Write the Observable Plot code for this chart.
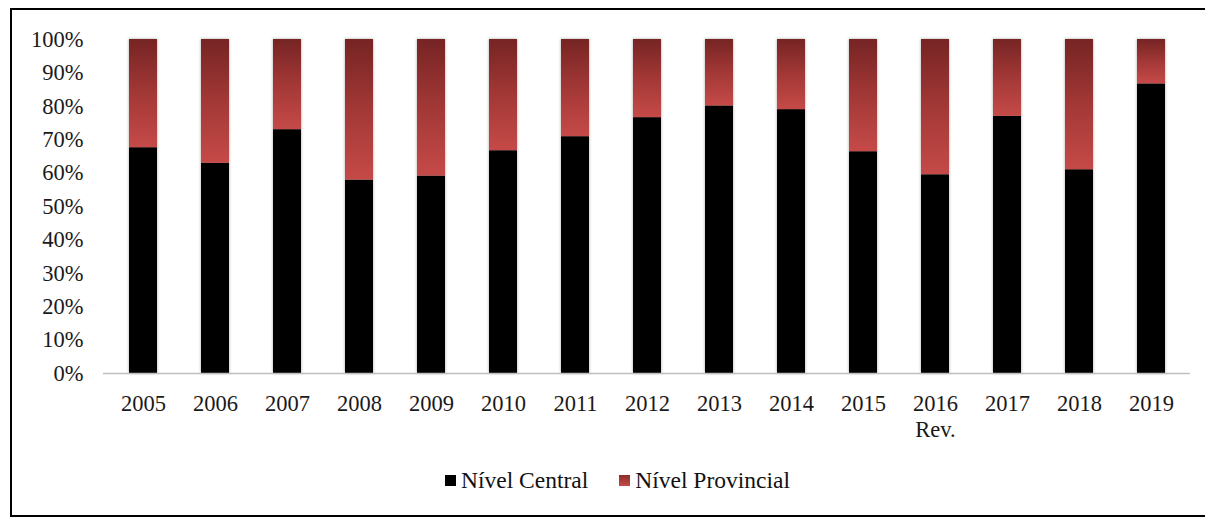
<!DOCTYPE html>
<html>
<head>
<meta charset="utf-8">
<script src="https://cdn.jsdelivr.net/npm/d3@7"></script>
<script src="https://cdn.jsdelivr.net/npm/@observablehq/plot@0.6"></script>
<style>
  html, body { margin: 0; padding: 0; background: #fff; }
  body { width: 1205px; height: 518px; position: relative; overflow: hidden; font-family: "Liberation Serif", "Times New Roman", serif; }
  #frame { position: absolute; left: 10px; top: 8px; width: 1210px; height: 505px; border-left: 2px solid #000; border-top: 2px solid #000; border-bottom: 2px solid #000; }
  #chart { position: absolute; left: 0; top: 0; }
  #legend { position: absolute; left: 433px; top: 457px; display: flex; align-items: center; font-size: 23.5px; color: #111; white-space: nowrap; }
  #legend .item { display: flex; align-items: center; margin-right: 31px; }
  #legend .sw { width: 11px; height: 11px; margin-right: 5px; }
</style>
</head>
<body>
<div id="frame">
  <div id="chart"></div>
  <div id="legend"></div>
</div>
<script>
const years = ["2005","2006","2007","2008","2009","2010","2011","2012","2013","2014","2015","2016","2017","2018","2019"];
const series = ["Nível Central", "Nível Provincial"];
const central = [67.6, 62.9, 73.0, 57.9, 59.1, 66.7, 70.9, 76.6, 80.1, 79.0, 66.4, 59.5, 77.0, 61.0, 86.7];
const provincial = [32.4, 37.1, 27.0, 42.1, 40.9, 33.3, 29.1, 23.4, 19.9, 21.0, 33.6, 40.5, 23.0, 39.0, 13.3];
const yTicks = [0, 10, 20, 30, 40, 50, 60, 70, 80, 90, 100];
const yearLabels = {"2016": "2016\nRev."};

const rows = [];
years.forEach((y, i) => rows.push({year: y, serie: series[0], value: central[i]}));
years.forEach((y, i) => rows.push({year: y, serie: series[1], value: provincial[i]}));

const font = "Liberation Serif";
const plot = Plot.plot({
  width: 1193,
  height: 440,
  marginTop: 29,
  marginLeft: 91,
  marginRight: 15,
  marginBottom: 77,
  style: {fontFamily: font, fontSize: "22.5px", color: "#1a1a1a", background: "transparent"},
  x: {domain: years, paddingInner: 0.616, paddingOuter: 0.308, label: null},
  y: {domain: [0, 100], label: null},
  color: {domain: series, range: ["#000000", "url(#provGrad)"]},
  marks: [
    Plot.barY(rows, Plot.stackY({x: "year", y: "value", fill: "serie", order: series})),
    Plot.ruleY([0], {stroke: "#bfbfbf", strokeWidth: 1.3}),
    Plot.axisY({ticks: yTicks, tickSize: 0, tickPadding: 20, tickFormat: d => d + "%", fontSize: 22.5, label: null}),
    Plot.axisX({ticks: years, tickSize: 0, tickPadding: 19, fontSize: 22.5, lineHeight: 1.16, tickFormat: d => yearLabels[d] || d, label: null})
  ]
});

const ns = "http://www.w3.org/2000/svg";
const defs = document.createElementNS(ns, "defs");
defs.innerHTML = `
  <linearGradient id="provGrad" x1="0" y1="0" x2="0" y2="1">
    <stop offset="0" stop-color="#762424"/>
    <stop offset="0.5" stop-color="#a23836"/>
    <stop offset="1" stop-color="#c54a47"/>
  </linearGradient>`;
plot.insertBefore(defs, plot.firstChild);
plot.querySelectorAll('g[aria-label="bar"]').forEach(g => g.style.filter = "drop-shadow(0 0 1.5px rgba(0,0,0,0.35))");
document.getElementById("chart").appendChild(plot);

const legend = document.getElementById("legend");
series.forEach((s, i) => {
  const item = document.createElement("div");
  item.className = "item";
  const sw = document.createElement("span");
  sw.className = "sw";
  sw.style.background = i === 0 ? "#000" : "linear-gradient(#8c2e2c, #c54a47)";
  const t = document.createElement("span");
  t.textContent = s;
  item.appendChild(sw);
  item.appendChild(t);
  legend.appendChild(item);
});
</script>
</body>
</html>
